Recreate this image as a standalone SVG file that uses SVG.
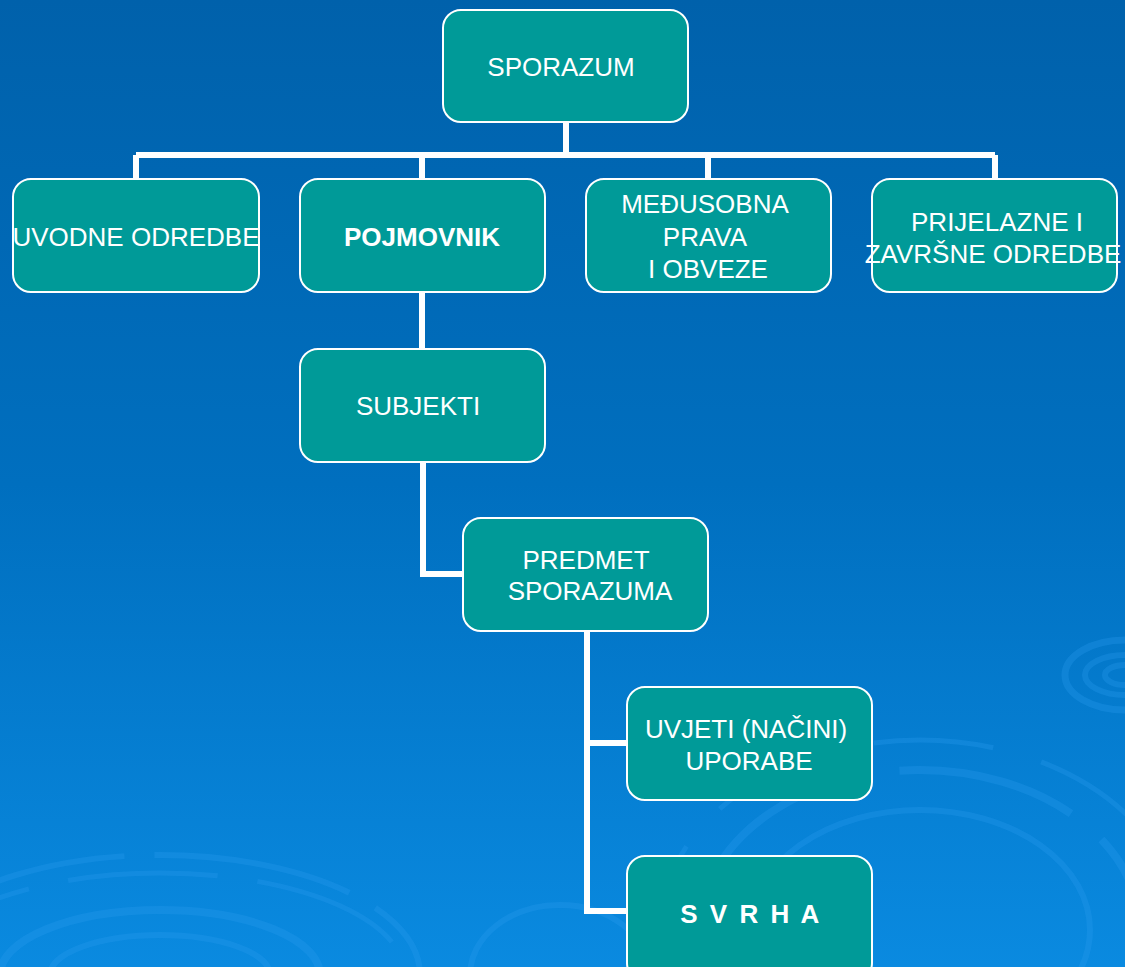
<svg xmlns="http://www.w3.org/2000/svg" width="1125" height="967" viewBox="0 0 1125 967">
<defs>
<linearGradient id="bg" x1="0" y1="0" x2="0" y2="1">
<stop offset="0" stop-color="#0061ab"/>
<stop offset="0.5" stop-color="#006fbf"/>
<stop offset="1" stop-color="#0a8ae0"/>
</linearGradient>
<style>
.box{fill:#009a98;stroke:#ffffff;stroke-width:2}
.t{font-family:"Liberation Sans",Arial,sans-serif;font-size:26px;fill:#ffffff;text-anchor:middle}
.b{font-weight:bold}
.c{fill:none;stroke:#ffffff;stroke-width:6}
.r{fill:none;stroke:#2a9cf0;stroke-opacity:0.3}
</style>
</defs>
<rect x="0" y="0" width="1125" height="967" fill="url(#bg)"/>
<g id="decor">
<ellipse class="r" cx="160" cy="975" rx="160" ry="65" stroke-width="8"/>
<ellipse class="r" cx="160" cy="975" rx="110" ry="40" stroke-width="6"/>
<ellipse class="r" cx="160" cy="975" rx="260" ry="120" stroke-width="6" stroke-dasharray="200 30"/>
<ellipse class="r" cx="160" cy="975" rx="245" ry="102" stroke-width="5" stroke-dasharray="150 40"/>
<ellipse class="r" cx="560" cy="975" rx="90" ry="70" stroke-width="6"/>
<ellipse class="r" cx="920" cy="930" rx="220" ry="160" stroke-width="8" stroke-dasharray="180 40"/>
<ellipse class="r" cx="920" cy="930" rx="260" ry="190" stroke-width="5" stroke-dasharray="120 50"/>
<ellipse class="r" cx="920" cy="930" rx="170" ry="120" stroke-width="6"/>
<ellipse class="r" cx="1125" cy="675" rx="60" ry="35" stroke-width="7"/>
<ellipse class="r" cx="1125" cy="675" rx="40" ry="20" stroke-width="6"/>
<ellipse class="r" cx="1125" cy="675" rx="20" ry="10" stroke-width="6"/>
</g>
<g id="connectors">
<path class="c" d="M566 122V155M136 155H995M136 155V179M422 155V179M708 155V179M995 155V179"/>
<path class="c" d="M422 292V349"/>
<path class="c" d="M423 462V574H463"/>
<path class="c" d="M587 631V911H627M587 743H627"/>
</g>
<g id="n-sporazum"><rect class="box" x="443" y="10" width="245" height="112" rx="18"/><text class="t" x="561" y="76">SPORAZUM</text></g>
<g id="n-uvodne"><rect class="box" x="13" y="179" width="246" height="113" rx="18"/><text class="t" x="136" y="246">UVODNE ODREDBE</text></g>
<g id="n-pojmovnik"><rect class="box" x="300" y="179" width="245" height="113" rx="18"/><text class="t b" x="422" y="246" font-size="24">POJMOVNIK</text></g>
<g id="n-medusobna"><rect class="box" x="586" y="179" width="245" height="113" rx="18"/><text class="t" x="705" y="213">MEĐUSOBNA</text><text class="t" x="705" y="246">PRAVA</text><text class="t" x="708" y="278">I OBVEZE</text></g>
<g id="n-prijelazne"><rect class="box" x="872" y="179" width="245" height="113" rx="18"/><text class="t" x="997" y="231">PRIJELAZNE I</text><text class="t" x="993" y="263">ZAVRŠNE ODREDBE</text></g>
<g id="n-subjekti"><rect class="box" x="300" y="349" width="245" height="113" rx="18"/><text class="t" x="418" y="415">SUBJEKTI</text></g>
<g id="n-predmet"><rect class="box" x="463" y="518" width="245" height="113" rx="18"/><text class="t" x="586" y="569">PREDMET</text><text class="t" x="590" y="600">SPORAZUMA</text></g>
<g id="n-uvjeti"><rect class="box" x="627" y="687" width="245" height="113" rx="18"/><text class="t" x="746" y="738">UVJETI (NAČINI)</text><text class="t" x="749" y="770">UPORABE</text></g>
<g id="n-svrha"><rect class="box" x="627" y="856" width="245" height="125" rx="18"/><text class="t b" x="751" y="923" font-size="22" letter-spacing="2.5">S V R H A</text></g>
</svg>
